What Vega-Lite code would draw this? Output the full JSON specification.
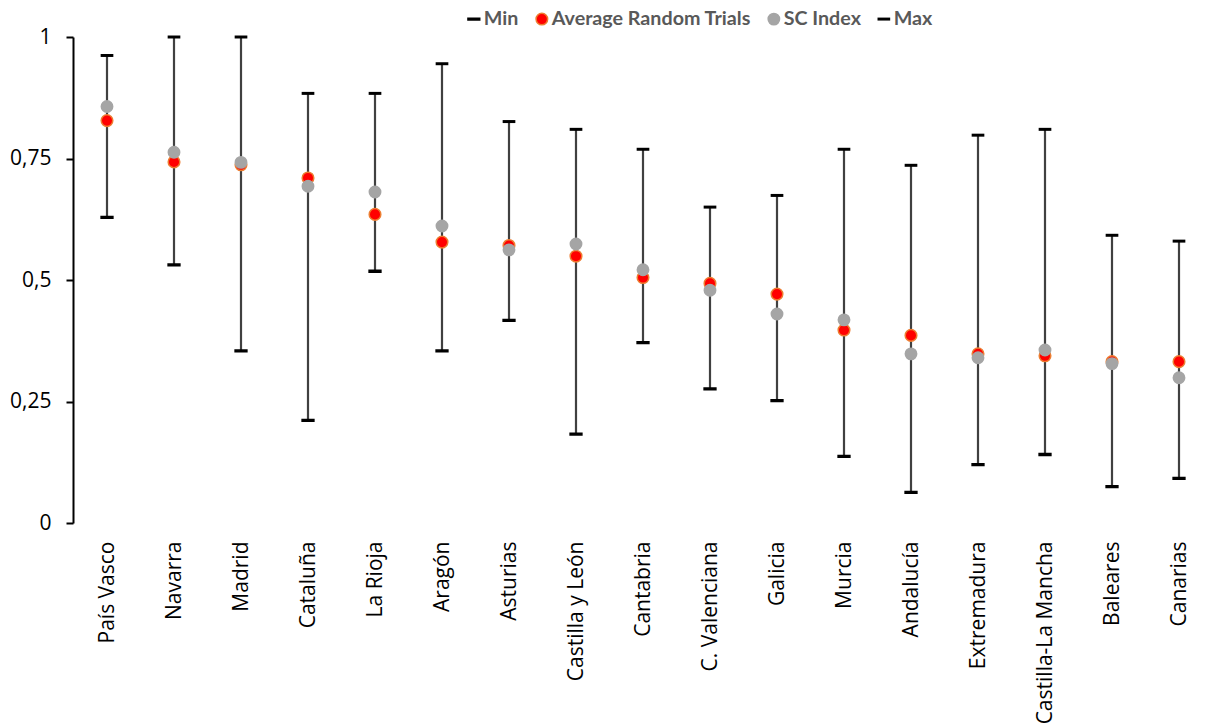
{
  "$schema": "https://vega.github.io/schema/vega-lite/v6.json",
  "autosize": "none",
  "width": 1136,
  "height": 486,
  "padding": {"left": 73, "top": 37, "right": 0, "bottom": 202},
  "background": "white",
  "data": {
    "values": [
      {"region": "País Vasco", "Min": 0.629, "Average Random Trials": 0.828, "SC Index": 0.857, "Max": 0.962},
      {"region": "Navarra", "Min": 0.531, "Average Random Trials": 0.743, "SC Index": 0.763, "Max": 1.0},
      {"region": "Madrid", "Min": 0.354, "Average Random Trials": 0.737, "SC Index": 0.742, "Max": 1.0},
      {"region": "Cataluña", "Min": 0.211, "Average Random Trials": 0.710, "SC Index": 0.693, "Max": 0.884},
      {"region": "La Rioja", "Min": 0.518, "Average Random Trials": 0.635, "SC Index": 0.681, "Max": 0.884},
      {"region": "Aragón", "Min": 0.354, "Average Random Trials": 0.578, "SC Index": 0.611, "Max": 0.945},
      {"region": "Asturias", "Min": 0.417, "Average Random Trials": 0.571, "SC Index": 0.562, "Max": 0.826},
      {"region": "Castilla y León", "Min": 0.183, "Average Random Trials": 0.549, "SC Index": 0.574, "Max": 0.810},
      {"region": "Cantabria", "Min": 0.371, "Average Random Trials": 0.505, "SC Index": 0.521, "Max": 0.769},
      {"region": "C. Valenciana", "Min": 0.276, "Average Random Trials": 0.493, "SC Index": 0.479, "Max": 0.650},
      {"region": "Galicia", "Min": 0.252, "Average Random Trials": 0.471, "SC Index": 0.430, "Max": 0.674},
      {"region": "Murcia", "Min": 0.137, "Average Random Trials": 0.397, "SC Index": 0.418, "Max": 0.769},
      {"region": "Andalucía", "Min": 0.063, "Average Random Trials": 0.386, "SC Index": 0.348, "Max": 0.736},
      {"region": "Extremadura", "Min": 0.120, "Average Random Trials": 0.348, "SC Index": 0.340, "Max": 0.798},
      {"region": "Castilla-La Mancha", "Min": 0.141, "Average Random Trials": 0.344, "SC Index": 0.356, "Max": 0.810},
      {"region": "Baleares", "Min": 0.075, "Average Random Trials": 0.332, "SC Index": 0.328, "Max": 0.592},
      {"region": "Canarias", "Min": 0.092, "Average Random Trials": 0.332, "SC Index": 0.299, "Max": 0.580}
    ]
  },
  "encoding": {
    "x": {
      "field": "region",
      "type": "nominal",
      "sort": null,
      "scale": {"type": "point", "padding": 0, "range": [34, 1106]},
      "axis": {
        "title": null,
        "domain": false,
        "ticks": false,
        "tickSize": 0,
        "labelAngle": -90,
        "labelAlign": "right",
        "labelBaseline": "middle",
        "labelPadding": 18,
        "labelFont": "Open Sans",
        "labelFontSize": 21,
        "labelColor": "#000000",
        "labelLimit": 300
      }
    }
  },
  "layer": [
    {
      "mark": {"type": "rule", "color": "#404040", "strokeWidth": 2.2},
      "encoding": {
        "y": {
          "field": "Min",
          "type": "quantitative",
          "scale": {"domain": [0, 1], "nice": false, "zero": true},
          "axis": {
            "title": null,
            "values": [0, 0.25, 0.5, 0.75, 1],
            "labelExpr": "replace(format(datum.value, '~g'), '.', ',')",
            "grid": false,
            "domainColor": "#000000",
            "domainWidth": 2,
            "tickColor": "#000000",
            "tickWidth": 2,
            "tickSize": 7,
            "labelPadding": 15,
            "labelFont": "Open Sans",
            "labelFontSize": 21,
            "labelColor": "#000000"
          }
        },
        "y2": {"field": "Max"}
      }
    },
    {
      "transform": [
        {"fold": ["Min", "Average Random Trials", "SC Index", "Max"], "as": ["series", "value"]}
      ],
      "mark": {"type": "point", "opacity": 1, "fillOpacity": 1, "strokeWidth": 1.5},
      "encoding": {
        "y": {"field": "value", "type": "quantitative"},
        "fill": {
          "field": "series",
          "type": "nominal",
          "scale": {
            "domain": ["Min", "Average Random Trials", "SC Index", "Max"],
            "range": ["#000000", "#FF0000", "#A5A5A5", "#000000"]
          },
          "legend": {"title": null}
        },
        "stroke": {
          "field": "series",
          "type": "nominal",
          "scale": {
            "domain": ["Min", "Average Random Trials", "SC Index", "Max"],
            "range": ["#000000", "#ED7D31", "#A5A5A5", "#000000"]
          },
          "legend": {"title": null}
        },
        "shape": {
          "field": "series",
          "type": "nominal",
          "scale": {
            "domain": ["Min", "Average Random Trials", "SC Index", "Max"],
            "range": ["M-1,-0.153H1V0.153H-1Z", "circle", "circle", "M-1,-0.133H1V0.133H-1Z"]
          },
          "legend": {"title": null}
        },
        "size": {
          "field": "series",
          "type": "nominal",
          "scale": {
            "domain": ["Min", "Average Random Trials", "SC Index", "Max"],
            "range": [139, 125, 156, 272]
          },
          "legend": {"title": null}
        }
      }
    },
    {
      "mark": {"type": "rule", "color": "#000000", "strokeWidth": 2},
      "encoding": {"y": {"datum": 0}}
    }
  ],
  "config": {
    "view": {"stroke": null},
    "legend": {
      "orient": "none",
      "legendX": 391,
      "legendY": -28,
      "direction": "horizontal",
      "labelFont": "Lato",
      "labelFontSize": 19.7,
      "labelFontWeight": "bold",
      "labelColor": "#595959",
      "labelOffset": 0,
      "labelLimit": 400,
      "columnPadding": 13,
      "symbolStrokeWidth": 1.5
    }
  }
}
